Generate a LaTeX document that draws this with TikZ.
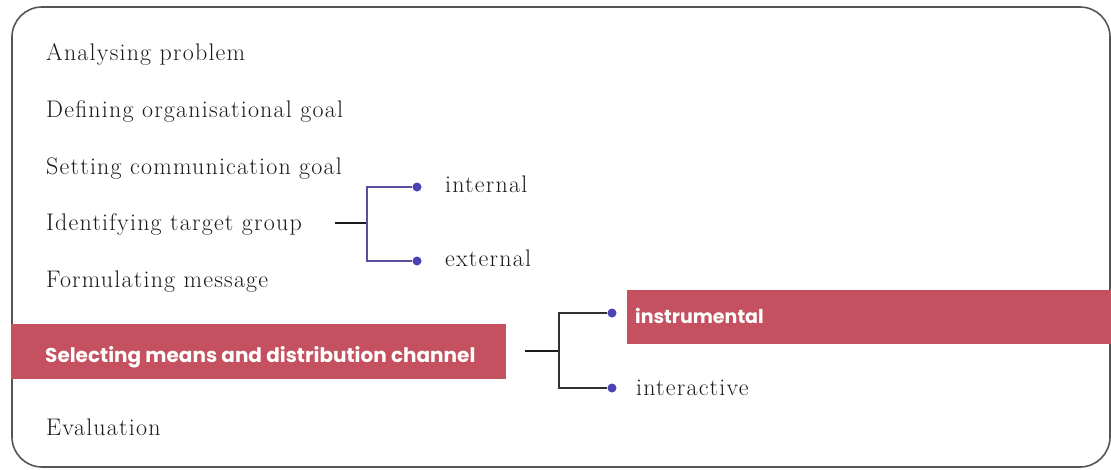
\documentclass[tikz,border=0pt]{standalone}
\usepackage{fontspec}
\newfontfamily\barfont{Poppins}
\newfontfamily\listfont{Latin Modern Roman}[LetterSpace=5]
\definecolor{barred}{HTML}{C5505F}
\definecolor{linkblue}{HTML}{5A4E9E}
\definecolor{dotblue}{HTML}{4B43B5}
\definecolor{framegray}{HTML}{555555}
\definecolor{inkgray}{HTML}{1A1A1A}
\tikzset{
  item/.style={anchor=base west, inner sep=0pt, text=inkgray,
    font=\listfont\fontsize{24}{28}\selectfont},
  bartext/.style={anchor=base west, inner sep=0pt, text=white,
    font=\barfont\bfseries\fontsize{19}{22}\selectfont},
  bar/.style={fill=barred, draw=none},
  dot/.style={circle, fill=dotblue, inner sep=0pt, minimum size=9pt},
  linkA/.style={draw=linkblue, line width=2pt},
  linkB/.style={draw=inkgray!90, line width=2pt},
  stub/.style={draw=inkgray, line width=2pt},
}
\begin{document}
\begin{tikzpicture}[x=1pt, y=-1pt]
\useasboundingbox (0,0) rectangle (1111,469);
% outer frame
\draw[framegray, line width=1.6pt, rounded corners=30pt] (12,7) rectangle (1110,467);

% highlighted bars
\fill[bar] (11,324) rectangle (506,379);
\fill[bar] (627,290) rectangle (1111,344);

% process steps
\node[item] (s1) at (46,60)  {Analysing problem};
\node[item] (s2) at (46,117) {Defining organisational goal};
\node[item] (s3) at (46,174) {Setting communication goal};
\node[item] (s4) at (46,230) {Identifying target group};
\node[item] (s5) at (46,287) {Formulating message};
\node[bartext, font=\barfont\bfseries\fontsize{20}{24}\selectfont] (s6) at (45,362) {Selecting means and distribution channel};
\node[item] (s7) at (46,435) {Evaluation};

% target group branches
\coordinate (b1in) at (335,223);
\coordinate (b1) at (367,223);
\node[dot] (d1a) at (417,187) {};
\node[dot] (d1b) at (417,261) {};
\node[item] (t1a) at (445,192) {internal};
\node[item] (t1b) at (445,266) {external};
\draw[stub] (b1in) -- (b1);
\draw[linkA] (d1a) -| (b1) |- (d1b);

% channel branches
\coordinate (b2in) at (525,351);
\coordinate (b2) at (559,351);
\node[dot] (d2a) at (612,313) {};
\node[dot] (d2b) at (612,388) {};
\node[bartext] (t2a) at (635,323) {instrumental};
\node[item] (t2b) at (636,395) {interactive};
\draw[stub] (b2in) -- (b2);
\draw[linkB] (d2a) -| (b2) |- (d2b);
\end{tikzpicture}
\end{document}
